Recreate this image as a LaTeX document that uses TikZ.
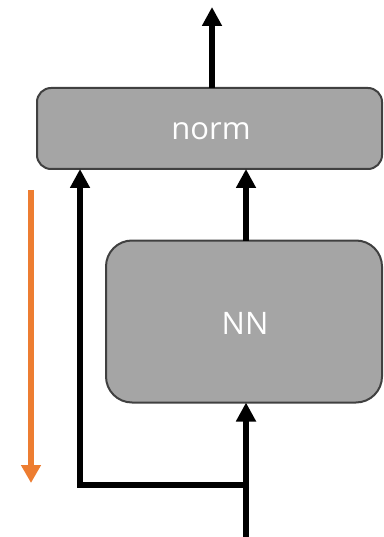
\documentclass[tikz,border=0pt]{standalone}
\usepackage{fontspec}
\setmainfont{Open Sans}
\usetikzlibrary{arrows.meta}
\definecolor{boxfill}{HTML}{A5A5A5}
\definecolor{boxline}{HTML}{404040}
\definecolor{flow}{HTML}{ED7D31}
\begin{document}
\begin{tikzpicture}[x=1pt,y=-1pt,
  block/.style={draw=boxline, fill=boxfill, line width=2pt, rounded corners=#1,
    inner sep=0pt, outer sep=0pt, text=white,
    font=\fontsize{31}{36}\selectfont},
  wire/.style={line width=6pt, black, line join=miter, -{Triangle[length=19pt,width=19pt]}},
  gradflow/.style={line width=5.5pt, flow, -{Triangle[length=18pt,width=19pt]}}
]
\useasboundingbox (0,0) rectangle (383,537);

% blocks
\node[block=14pt, minimum width=345pt, minimum height=81pt] (norm) at (209.5,128.5) {};
\node[text=white, font=\fontsize{31}{36}\selectfont, inner sep=0pt] (normlabel) at (211,131) {norm};
\node[block=26pt, minimum width=276pt, minimum height=162pt] (nn) at (244,321.5) {};
\node[text=white, font=\fontsize{31}{36}\selectfont, inner sep=0pt] (nnlabel) at (245,323.5) {NN};

% free ends and junction
\coordinate (out) at (212,7);
\coordinate (in) at (246,537);
\coordinate (split) at (249,485);
\coordinate (bend) at (80,485);
\coordinate (gtop) at (31,190);
\coordinate (gbot) at (31,483);

% main path
\draw[wire] (in) -- (in |- nn.south);
\draw[wire] (in |- nn.north) -- (in |- norm.south);
\draw[wire] (out |- norm.north) -- (out);

% residual branch
\draw[wire] (split) -- (bend) -- (bend |- norm.south);

% downward flow marker
\draw[gradflow] (gtop) -- (gbot);
\end{tikzpicture}
\end{document}
